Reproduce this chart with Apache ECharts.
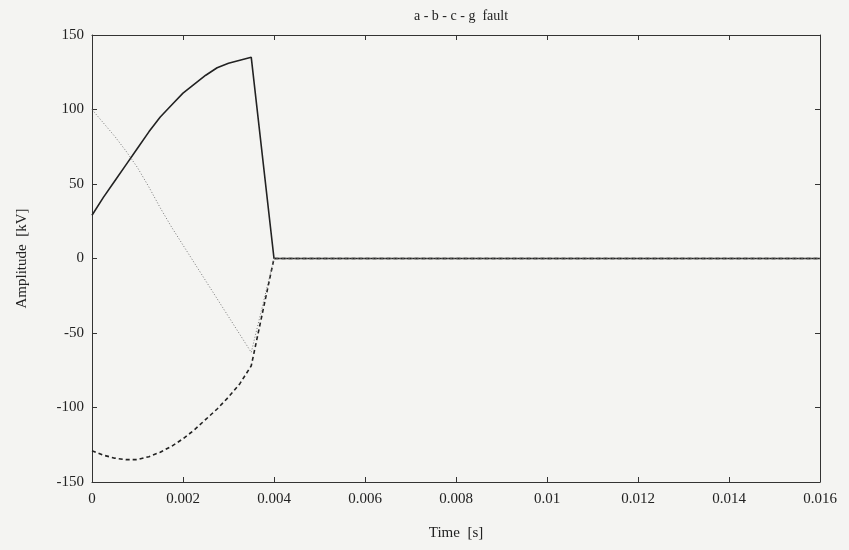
<!DOCTYPE html>
<html>
<head>
<meta charset="utf-8">
<script src="https://cdn.jsdelivr.net/npm/echarts@6/dist/echarts.min.js"></script>
<style>
    * { margin: 0; padding: 0; }
    body { background: #f4f4f2; }
</style>
</head>
<body>
<div id="main" style="width: 849px; height: 550px;"></div>
<script>
    // time samples [s]
    var time = [0, 0.00025, 0.0005, 0.00075, 0.001, 0.00125, 0.0015, 0.00175, 0.002,
        0.00225, 0.0025, 0.00275, 0.003, 0.00325, 0.0035, 0.004, 0.016];
    // phase voltages [kV]
    var phaseSolid = [29, 41, 52, 63, 74, 85, 95, 103, 111, 117, 123, 128, 131, 133, 135, 0, 0];
    var phaseDashed = [-129, -132, -134, -135, -135, -133, -130, -126, -121, -115, -108, -101, -93, -84, -72, 0, 0];
    var phaseDotted = [100, 91, 82, 72, 61, 48, 34, 21, 9, -3, -15, -27, -39, -51, -63, 0, 0];

    function pairs(vals) {
        return time.map(function (t, i) { return [t, vals[i]]; });
    }

    var font = 'Liberation Serif';
    var axisLine = { show: true, onZero: false, lineStyle: { color: '#333', width: 1 } };
    var tick = { show: true, inside: true, length: 5, lineStyle: { color: '#333' } };

    var option = {
        backgroundColor: '#f4f4f2',
        animation: false,
        title: {
            text: 'a - b - c - g  fault',
            left: 456, top: 4, textAlign: 'center',
            textStyle: { fontFamily: font, fontSize: 14, fontWeight: 'normal', color: '#222' }
        },
        grid: { left: 92, right: 29, top: 35, bottom: 68 },
        xAxis: [{
            type: 'value', min: 0, max: 0.016, interval: 0.002,
            name: 'Time  [s]', nameLocation: 'middle', nameGap: 44,
            nameTextStyle: { fontFamily: font, fontSize: 15, color: '#222' },
            axisLine: axisLine, axisTick: tick, splitLine: { show: false },
            axisLabel: { fontFamily: font, fontSize: 15, color: '#222', margin: 10 }
        }, {
            type: 'value', position: 'top', min: 0, max: 0.016, interval: 0.002,
            axisLine: axisLine, axisTick: tick, splitLine: { show: false },
            axisLabel: { show: false }
        }],
        yAxis: [{
            type: 'value', min: -150, max: 150, interval: 50,
            name: 'Amplitude  [kV]', nameLocation: 'middle', nameGap: 62,
            nameTextStyle: { fontFamily: font, fontSize: 15, color: '#222' },
            axisLine: axisLine, axisTick: tick, splitLine: { show: false },
            axisLabel: { fontFamily: font, fontSize: 15, color: '#222', margin: 8 }
        }, {
            type: 'value', position: 'right', min: -150, max: 150, interval: 50,
            axisLine: axisLine, axisTick: tick, splitLine: { show: false },
            axisLabel: { show: false }
        }],
        series: [
            {
                type: 'line', name: 'a', data: pairs(phaseSolid), showSymbol: false,
                lineStyle: { color: '#222', width: 1.6 }
            },
            {
                type: 'line', name: 'b', data: pairs(phaseDashed), showSymbol: false,
                lineStyle: { color: '#222', width: 1.6, type: [4, 3] }
            },
            {
                type: 'line', name: 'c', data: pairs(phaseDotted), showSymbol: false,
                lineStyle: { color: '#777', width: 1, type: [1, 2] }
            }
        ]
    };

    var myChart = echarts.init(document.getElementById('main'));
    myChart.setOption(option);
</script>
</body>
</html>
